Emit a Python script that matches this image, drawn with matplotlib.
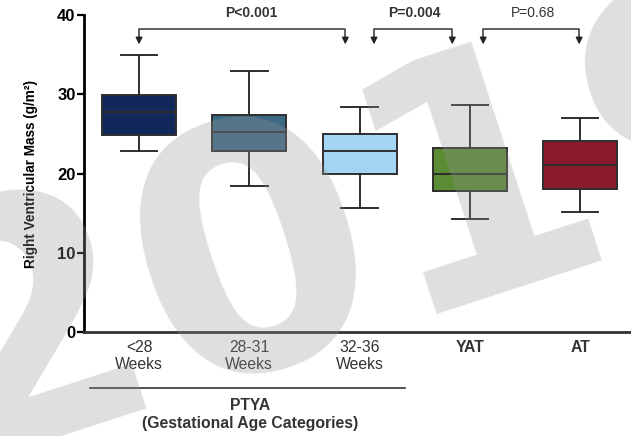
import matplotlib
matplotlib.use("Agg")
import matplotlib.pyplot as plt

plt.rcParams["font.family"] = ["Liberation Sans", "DejaVu Sans"]

# --- Data (g/m^2) ---
categories = ["<28\nWeeks", "28-31\nWeeks", "32-36\nWeeks", "YAT", "AT"]
whisker_low = [22.9, 18.4, 15.7, 14.3, 15.1]
q1 = [24.8, 22.9, 19.9, 17.8, 18.1]
median = [27.8, 25.3, 22.8, 19.9, 21.1]
q3 = [29.9, 27.4, 25.0, 23.2, 24.1]
whisker_high = [35.0, 32.9, 28.4, 28.6, 27.0]
box_colors = ["#13285a", "#3c6983", "#a3d5f2", "#5b8c34", "#8a1b2c"]

# label, bracket start, bracket end, label x, weight
comparisons = [("P<0.001", 0.0, 1.87, 1.02, "bold"),
               ("P=0.004", 2.13, 2.84, 2.50, "bold"),
               ("P=0.68", 3.12, 3.99, 3.57, "normal")]

fig = plt.figure(figsize=(6.31, 4.36), dpi=100)
ax = fig.add_axes([0.133, 0.2385, 0.867, 0.727])

stats = []
for i in range(len(categories)):
    stats.append({"whislo": whisker_low[i], "q1": q1[i], "med": median[i],
                  "q3": q3[i], "whishi": whisker_high[i], "fliers": []})

edge = "#2e2e2e"
bp = ax.bxp(stats, positions=range(len(categories)), widths=0.67,
            patch_artist=True, showfliers=False,
            boxprops=dict(edgecolor=edge, linewidth=1.4),
            medianprops=dict(color=edge, linewidth=1.4),
            whiskerprops=dict(color=edge, linewidth=1.4),
            capprops=dict(color=edge, linewidth=1.4),
            capwidths=0.33)
for patch, c in zip(bp["boxes"], box_colors):
    patch.set_facecolor(c)

ax.set_xlim(-0.5, 4.46)
ax.set_ylim(0, 40)
ax.set_yticks([0, 10, 20, 30, 40])
ax.set_xticks(range(len(categories)))
ax.set_xticklabels(categories, fontsize=11.3, color="#333333", linespacing=1.1)
for lab in ax.get_xticklabels()[3:]:
    lab.set_fontweight("bold")
ax.tick_params(axis="x", length=0, pad=6)
ax.tick_params(axis="y", width=1.6, length=5, labelsize=12, pad=1)
for lab in ax.get_yticklabels():
    lab.set_fontweight("bold")
for s in ["top", "right"]:
    ax.spines[s].set_visible(False)
ax.spines["left"].set_linewidth(2)
ax.spines["bottom"].set_linewidth(2)
ax.spines["bottom"].set_color("#333333")
ax.set_ylabel("Right Ventricular Mass (g/m²)", fontsize=9.8, fontweight="bold",
              labelpad=14)

# significance brackets
for label, x0, x1, xl, weight in comparisons:
    ax.plot([x0, x0, x1, x1], [36.9, 38.3, 38.3, 36.9], color="#333333",
            lw=1.1, clip_on=False)
    for xx in (x0, x1):
        ax.annotate("", xy=(xx, 36.3), xytext=(xx, 37.2),
                    arrowprops=dict(arrowstyle="-|>", color="#222222", lw=1,
                                    mutation_scale=10, shrinkA=0, shrinkB=0),
                    annotation_clip=False)
    ax.text(xl, 40.3, label, ha="center", va="center",
            fontsize=10, fontweight=weight, color="#333333", clip_on=False)

# group label under the preterm categories
fig.add_artist(plt.Line2D([0.143, 0.642], [0.110, 0.110], color="#333333",
                          lw=1.2))
fig.text(0.396, 0.069, "PTYA", ha="center", va="center", fontsize=11.3,
         fontweight="bold", color="#333333")
fig.text(0.396, 0.028, "(Gestational Age Categories)", ha="center",
         va="center", fontsize=11.3, fontweight="bold", color="#333333")

# watermark
fig.text(0.631, 0.271, "2019", ha="center", va="baseline",
         rotation_mode="anchor", fontsize=245, fontweight="bold",
         family="DejaVu Sans", rotation=18, color="#949494", alpha=0.3,
         zorder=10)

fig.savefig("out.png", dpi=100)
